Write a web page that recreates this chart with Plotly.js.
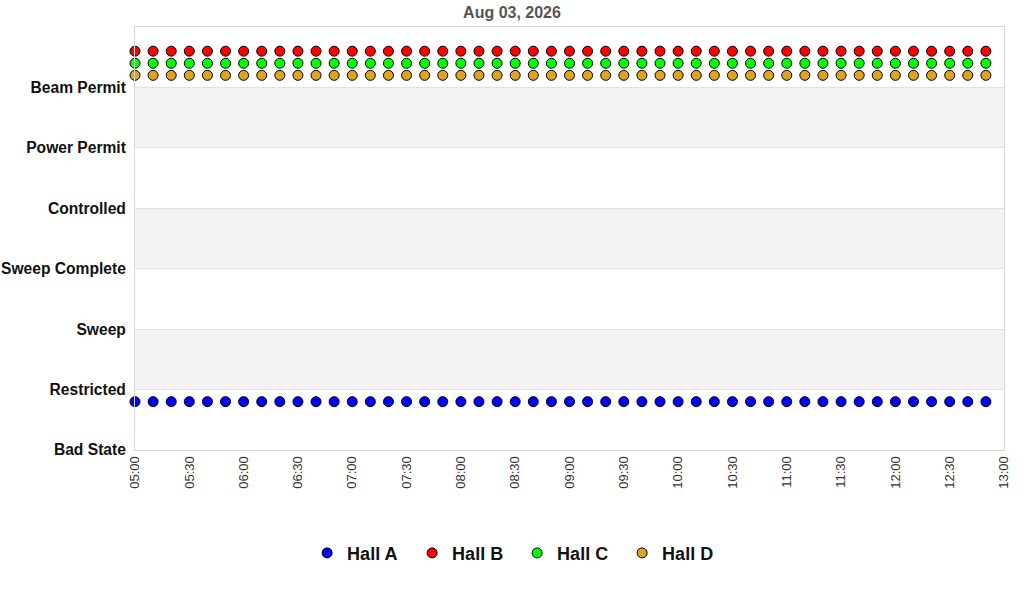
<!DOCTYPE html>
<html>
<head>
<meta charset="utf-8">
<script src="https://cdn.plot.ly/plotly-3.0.1.min.js"></script>
<style>
  html, body { margin: 0; padding: 0; background: white; }
  #chart { width: 1024px; height: 600px; }
</style>
</head>
<body>
<div id="chart"></div>
<script>
// Hall status timeline - one marker per 10 minutes for each hall

const stateLabels = ['Bad State', 'Restricted', 'Sweep', 'Sweep Complete',
  'Controlled', 'Power Permit', 'Beam Permit'];
const stateValues = [0, 1, 2, 3, 4, 5, 6];

const times = [
  '2026-08-03 05:00', '2026-08-03 05:10', '2026-08-03 05:20', '2026-08-03 05:30',
  '2026-08-03 05:40', '2026-08-03 05:50', '2026-08-03 06:00', '2026-08-03 06:10',
  '2026-08-03 06:20', '2026-08-03 06:30', '2026-08-03 06:40', '2026-08-03 06:50',
  '2026-08-03 07:00', '2026-08-03 07:10', '2026-08-03 07:20', '2026-08-03 07:30',
  '2026-08-03 07:40', '2026-08-03 07:50', '2026-08-03 08:00', '2026-08-03 08:10',
  '2026-08-03 08:20', '2026-08-03 08:30', '2026-08-03 08:40', '2026-08-03 08:50',
  '2026-08-03 09:00', '2026-08-03 09:10', '2026-08-03 09:20', '2026-08-03 09:30',
  '2026-08-03 09:40', '2026-08-03 09:50', '2026-08-03 10:00', '2026-08-03 10:10',
  '2026-08-03 10:20', '2026-08-03 10:30', '2026-08-03 10:40', '2026-08-03 10:50',
  '2026-08-03 11:00', '2026-08-03 11:10', '2026-08-03 11:20', '2026-08-03 11:30',
  '2026-08-03 11:40', '2026-08-03 11:50', '2026-08-03 12:00', '2026-08-03 12:10',
  '2026-08-03 12:20', '2026-08-03 12:30', '2026-08-03 12:40', '2026-08-03 12:50'
];

// plotted level = state + small per-hall offset so the rows don't overlap
const hallA = [
  0.8, 0.8, 0.8, 0.8, 0.8, 0.8, 0.8, 0.8, 0.8, 0.8, 0.8, 0.8,
  0.8, 0.8, 0.8, 0.8, 0.8, 0.8, 0.8, 0.8, 0.8, 0.8, 0.8, 0.8,
  0.8, 0.8, 0.8, 0.8, 0.8, 0.8, 0.8, 0.8, 0.8, 0.8, 0.8, 0.8,
  0.8, 0.8, 0.8, 0.8, 0.8, 0.8, 0.8, 0.8, 0.8, 0.8, 0.8, 0.8
];
const hallB = [
  6.6, 6.6, 6.6, 6.6, 6.6, 6.6, 6.6, 6.6, 6.6, 6.6, 6.6, 6.6,
  6.6, 6.6, 6.6, 6.6, 6.6, 6.6, 6.6, 6.6, 6.6, 6.6, 6.6, 6.6,
  6.6, 6.6, 6.6, 6.6, 6.6, 6.6, 6.6, 6.6, 6.6, 6.6, 6.6, 6.6,
  6.6, 6.6, 6.6, 6.6, 6.6, 6.6, 6.6, 6.6, 6.6, 6.6, 6.6, 6.6
];
const hallC = [
  6.4, 6.4, 6.4, 6.4, 6.4, 6.4, 6.4, 6.4, 6.4, 6.4, 6.4, 6.4,
  6.4, 6.4, 6.4, 6.4, 6.4, 6.4, 6.4, 6.4, 6.4, 6.4, 6.4, 6.4,
  6.4, 6.4, 6.4, 6.4, 6.4, 6.4, 6.4, 6.4, 6.4, 6.4, 6.4, 6.4,
  6.4, 6.4, 6.4, 6.4, 6.4, 6.4, 6.4, 6.4, 6.4, 6.4, 6.4, 6.4
];
const hallD = [
  6.2, 6.2, 6.2, 6.2, 6.2, 6.2, 6.2, 6.2, 6.2, 6.2, 6.2, 6.2,
  6.2, 6.2, 6.2, 6.2, 6.2, 6.2, 6.2, 6.2, 6.2, 6.2, 6.2, 6.2,
  6.2, 6.2, 6.2, 6.2, 6.2, 6.2, 6.2, 6.2, 6.2, 6.2, 6.2, 6.2,
  6.2, 6.2, 6.2, 6.2, 6.2, 6.2, 6.2, 6.2, 6.2, 6.2, 6.2, 6.2
];

const hallNames = ['Hall A', 'Hall B', 'Hall C', 'Hall D'];
const hallColors = ['#0000ff', '#ff0000', '#00ff00', '#daa520'];
const hallSeries = [hallA, hallB, hallC, hallD];

const traces = hallSeries.map((ys, i) => ({
  x: times,
  y: ys,
  type: 'scatter',
  mode: 'markers',
  name: hallNames[i],
  cliponaxis: false,
  marker: {
    symbol: 'circle',
    size: 10,
    color: hallColors[i],
    line: { color: 'black', width: 1 }
  }
}));

// alternating background bands, like alternateGridColor
const bands = [];
for (let k = 1; k < stateValues.length; k += 2) {
  bands.push({
    type: 'rect', layer: 'below',
    xref: 'paper', x0: 0, x1: 1,
    yref: 'y', y0: stateValues[k], y1: stateValues[k + 1],
    fillcolor: '#f3f3f3', line: { width: 0 }
  });
}

const layout = {
  width: 1024,
  height: 600,
  margin: { l: 135, r: 20, t: 27, b: 150 },
  paper_bgcolor: 'white',
  plot_bgcolor: 'white',
  font: { family: 'Liberation Sans, Arial, sans-serif' },
  title: {
    text: 'Aug 03, 2026',
    x: 0.5, xref: 'container',
    y: 0.98, yanchor: 'middle',
    font: { size: 16, color: '#555555', weight: 'bold' }
  },
  xaxis: {
    type: 'date',
    range: ['2026-08-03 05:00', '2026-08-03 13:00'],
    dtick: 30 * 60 * 1000,
    tick0: '2026-08-03 05:00',
    tickformat: '%H:%M',
    tickangle: -90,
    tickfont: { size: 13, color: '#333333' },
    showgrid: false,
    zeroline: false,
    showline: true,
    mirror: true,
    linecolor: '#d8d8d8',
    linewidth: 1,
    ticks: '',
    fixedrange: true
  },
  yaxis: {
    range: [0, 7],
    tickvals: stateValues,
    ticktext: stateLabels,
    tickfont: { size: 15.6, color: '#111111', weight: 'bold' },
    ticklabelstandoff: 5,
    showgrid: true,
    gridcolor: '#e2e2e2',
    zeroline: false,
    showline: true,
    mirror: true,
    linecolor: '#d8d8d8',
    linewidth: 1,
    ticks: '',
    fixedrange: true
  },
  shapes: bands,
  showlegend: true,
  legend: {
    orientation: 'h',
    xref: 'container', x: 0.505, xanchor: 'center',
    yref: 'container', y: 0.078, yanchor: 'middle',
    font: { size: 18, color: '#111111', weight: 'bold' },
    entrywidth: 60,
    entrywidthmode: 'pixels'
  }
};

Plotly.newPlot('chart', traces, layout, { displayModeBar: false, staticPlot: true });
</script>
</body>
</html>
